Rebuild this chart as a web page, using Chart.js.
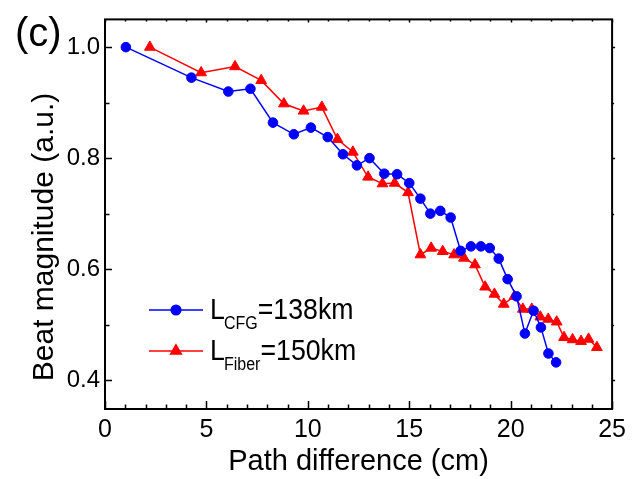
<!DOCTYPE html>
<html><head><meta charset="utf-8">
<script src="https://cdn.jsdelivr.net/npm/chart.js@4/dist/chart.umd.min.js"></script>
<style>html,body{margin:0;padding:0;background:#fff}#wrap{width:632px;height:479px}</style>
</head><body><div id="wrap"><canvas id="c" width="632" height="479"></canvas></div>
<script>
// ---- data ----
const cfgX = [1.03, 4.26, 6.08, 7.17, 8.28, 9.31, 10.15, 10.98, 11.73, 12.42, 13.04, 13.77, 14.40, 15.00, 15.55, 16.04, 16.53, 17.04, 17.53, 18.04, 18.53, 18.97, 19.41, 19.85, 20.29, 20.70, 21.13, 21.49, 21.86, 22.24];
const cfgY = [1.000, 0.945, 0.920, 0.925, 0.864, 0.843, 0.855, 0.838, 0.807, 0.787, 0.800, 0.772, 0.771, 0.755, 0.727, 0.700, 0.705, 0.693, 0.633, 0.641, 0.641, 0.638, 0.619, 0.582, 0.551, 0.484, 0.525, 0.495, 0.448, 0.432];
const fiberX = [2.21, 4.74, 6.41, 7.70, 8.82, 9.79, 10.69, 11.46, 12.22, 12.97, 13.68, 14.28, 14.94, 15.55, 16.08, 16.65, 17.21, 17.70, 18.24, 18.74, 19.20, 19.66, 20.18, 20.60, 21.04, 21.46, 21.85, 22.27, 22.63, 23.05, 23.47, 23.84, 24.25];
const fiberY = [1.000, 0.954, 0.965, 0.940, 0.898, 0.885, 0.892, 0.834, 0.811, 0.766, 0.754, 0.755, 0.738, 0.626, 0.638, 0.632, 0.626, 0.620, 0.608, 0.568, 0.555, 0.537, 0.551, 0.528, 0.528, 0.514, 0.510, 0.505, 0.477, 0.473, 0.470, 0.474, 0.459];
const xTicks = [0, 5, 10, 15, 20, 25];
const xMinorTicks = [1, 2, 3, 4, 6, 7, 8, 9, 11, 12, 13, 14, 16, 17, 18, 19, 21, 22, 23, 24];
const yTicks = [0.4, 0.6, 0.8, 1.0];
const yMinorTicks = [0.5, 0.7, 0.9];
const seriesNames = [{main: 'L', sub: 'CFG', rest: '=138km'}, {main: 'L', sub: 'Fiber', rest: '=150km'}];
const xTitle = 'Path difference (cm)';
const yTitle = 'Beat magnitude (a.u.)';
const panelLabel = '(c)';

const FONT = "'Liberation Sans', Arial, sans-serif";
const BLUE = '#0000ff', RED = '#ff0000';

const decor = {
  id: 'decor',
  afterDraw(chart) {
    const ctx = chart.ctx, a = chart.chartArea;
    const xs = chart.scales.x, ys = chart.scales.y;
    ctx.save();
    ctx.strokeStyle = '#000';
    ctx.lineWidth = 2;
    ctx.strokeRect(a.left, a.top, a.right - a.left, a.bottom - a.top);
    ctx.lineWidth = 1.5;
    ctx.beginPath();
    xTicks.forEach(v => { const p = Math.round(xs.getPixelForValue(v)) + 0.5; ctx.moveTo(p, a.bottom); ctx.lineTo(p, a.bottom - 8); ctx.moveTo(p, a.top); ctx.lineTo(p, a.top + 3); });
    xMinorTicks.forEach(v => { const p = Math.round(xs.getPixelForValue(v)) + 0.5; ctx.moveTo(p, a.bottom); ctx.lineTo(p, a.bottom - 4.5); ctx.moveTo(p, a.top); ctx.lineTo(p, a.top + 2); });
    yTicks.forEach(v => { const p = Math.round(ys.getPixelForValue(v)) + 0.5; ctx.moveTo(a.left, p); ctx.lineTo(a.left + 7, p); ctx.moveTo(a.right, p); ctx.lineTo(a.right + 3, p); });
    yMinorTicks.forEach(v => { const p = Math.round(ys.getPixelForValue(v)) + 0.5; ctx.moveTo(a.left, p); ctx.lineTo(a.left + 4.5, p); ctx.moveTo(a.right, p); ctx.lineTo(a.right + 2, p); });
    ctx.stroke();

    ctx.fillStyle = '#000';
    // panel label
    ctx.font = '40px ' + FONT;
    ctx.textAlign = 'left'; ctx.textBaseline = 'alphabetic';
    ctx.fillText(panelLabel, 15, 46);
    // x title
    ctx.font = '29px ' + FONT;
    ctx.textAlign = 'center';
    ctx.fillText(xTitle, (a.left + a.right) / 2, 470);
    // y title
    ctx.save();
    ctx.translate(53, 237);
    ctx.rotate(-Math.PI / 2);
    ctx.font = '30px ' + FONT;
    ctx.fillText(yTitle, 0, 0);
    ctx.restore();

    // legend
    const items = [
      {ds: chart.data.datasets[0], y: 310, style: 'circle', r: 4.8},
      {ds: chart.data.datasets[1], y: 351, style: 'triangle', r: 6.2}
    ];
    items.forEach((it, i) => {
      ctx.strokeStyle = it.ds.borderColor; ctx.fillStyle = it.ds.backgroundColor;
      ctx.lineWidth = 1.5;
      ctx.beginPath(); ctx.moveTo(149, it.y); ctx.lineTo(203, it.y); ctx.stroke();
      Chart.helpers.drawPoint(ctx, {pointStyle: it.style, radius: it.r, rotation: 0, borderWidth: 1}, 176, it.y);
      const nm = seriesNames[i];
      ctx.save();
      ctx.translate(210, 0);
      ctx.scale(0.89, 1);
      ctx.fillStyle = '#000'; ctx.textAlign = 'left';
      let x = 0; const base = it.y + 8.5;
      ctx.font = '30px ' + FONT; ctx.fillText(nm.main, x, base); x += ctx.measureText(nm.main).width - 1;
      ctx.font = '18px ' + FONT; ctx.fillText(nm.sub, x, base + 10); x += ctx.measureText(nm.sub).width;
      ctx.font = '30px ' + FONT; ctx.fillText(nm.rest, x, base);
      ctx.restore();
    });
    ctx.restore();
  }
};

new Chart(document.getElementById('c'), {
  type: 'line',
  data: {
    datasets: [
      {label: 'CFG', data: cfgX.map((x, i) => ({x, y: cfgY[i]})), borderColor: BLUE, backgroundColor: BLUE,
       borderWidth: 1.5, pointStyle: 'circle', pointRadius: 4.8, pointBorderWidth: 1, tension: 0},
      {label: 'Fiber', data: fiberX.map((x, i) => ({x, y: fiberY[i]})), borderColor: RED, backgroundColor: RED,
       borderWidth: 1.5, pointStyle: 'triangle', pointRadius: 6.2, pointBorderWidth: 1, tension: 0}
    ]
  },
  options: {
    responsive: false, animation: false, devicePixelRatio: 1,
    layout: {padding: {left: 0, right: 17, top: 16, bottom: 0}},
    plugins: {legend: {display: false}, tooltip: {enabled: false}},
    scales: {
      x: {
        type: 'linear', min: 0, max: 25,
        afterBuildTicks: s => { s.ticks = xTicks.map(v => ({value: v})); },
        afterFit: s => { s.height = 70; },
        grid: {display: false, drawTicks: false}, border: {display: false},
        ticks: {font: {family: FONT, size: 25}, color: '#000', padding: 6, maxRotation: 0, autoSkip: false,
                callback: v => String(v)}
      },
      y: {
        type: 'linear', min: 0.348, max: 1.05,
        afterBuildTicks: s => { s.ticks = yTicks.map(v => ({value: v})); },
        afterFit: s => { s.width = 105; },
        grid: {display: false, drawTicks: false}, border: {display: false},
        ticks: {font: {family: FONT, size: 24}, color: '#000', padding: 5, autoSkip: false,
                callback: v => Number(v).toFixed(1)}
      }
    }
  },
  plugins: [decor]
});
</script></body></html>
